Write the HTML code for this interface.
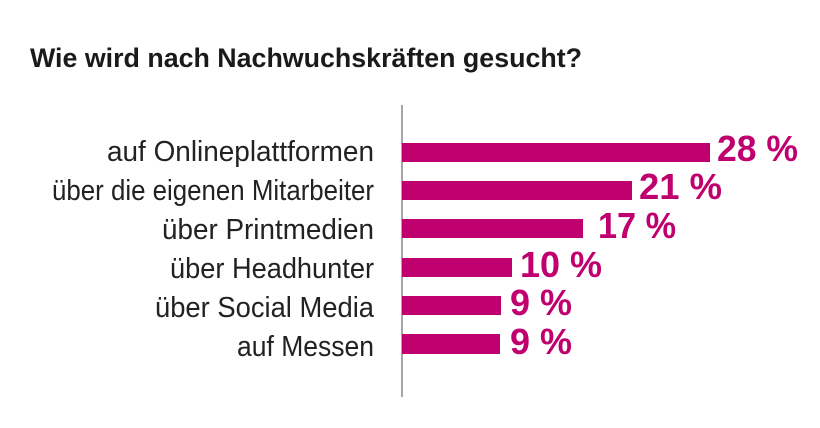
<!DOCTYPE html>
<html><head><meta charset="utf-8"><style>
html,body{margin:0;padding:0;background:#fff;}
svg{display:block}
</style></head><body>
<svg width="820" height="428" xmlns="http://www.w3.org/2000/svg">
<rect width="820" height="428" fill="#fff"/>
<text x="30" y="67" font-family="Liberation Sans, sans-serif" font-weight="bold" font-size="27" fill="#1a1a1a" textLength="552" lengthAdjust="spacingAndGlyphs">Wie wird nach Nachwuchskräften gesucht?</text>
<line x1="402" y1="105" x2="402" y2="397" stroke="#888" stroke-width="1.5"/>
<g fill="#c0006e">
<rect x="402" y="143" width="308" height="19"/>
<rect x="402" y="181" width="230" height="19"/>
<rect x="402" y="219" width="181" height="19"/>
<rect x="402" y="258" width="110" height="19"/>
<rect x="402" y="296" width="99" height="19"/>
<rect x="402" y="334" width="98" height="20"/>
</g>
<g font-family="Liberation Sans, sans-serif" font-size="29" fill="#222">
<text x="107" y="161" textLength="267" lengthAdjust="spacingAndGlyphs">auf Onlineplattformen</text>
<text x="52" y="200" textLength="322" lengthAdjust="spacingAndGlyphs">über die eigenen Mitarbeiter</text>
<text x="162" y="239" textLength="212" lengthAdjust="spacingAndGlyphs">über Printmedien</text>
<text x="170" y="278" textLength="204" lengthAdjust="spacingAndGlyphs">über Headhunter</text>
<text x="155" y="317" textLength="219" lengthAdjust="spacingAndGlyphs">über Social Media</text>
<text x="237" y="356" textLength="137" lengthAdjust="spacingAndGlyphs">auf Messen</text>
</g>
<g font-family="Liberation Sans, sans-serif" font-weight="bold" font-size="36" fill="#c0006e">
<text x="717" y="161" textLength="81" lengthAdjust="spacingAndGlyphs">28 %</text>
<text x="639" y="199" textLength="83" lengthAdjust="spacingAndGlyphs">21 %</text>
<text x="598" y="238" textLength="78" lengthAdjust="spacingAndGlyphs">17 %</text>
<text x="520" y="277" textLength="82" lengthAdjust="spacingAndGlyphs">10 %</text>
<text x="510" y="315" textLength="62" lengthAdjust="spacingAndGlyphs">9 %</text>
<text x="510" y="354" textLength="62" lengthAdjust="spacingAndGlyphs">9 %</text>
</g>
</svg>
</body></html>
